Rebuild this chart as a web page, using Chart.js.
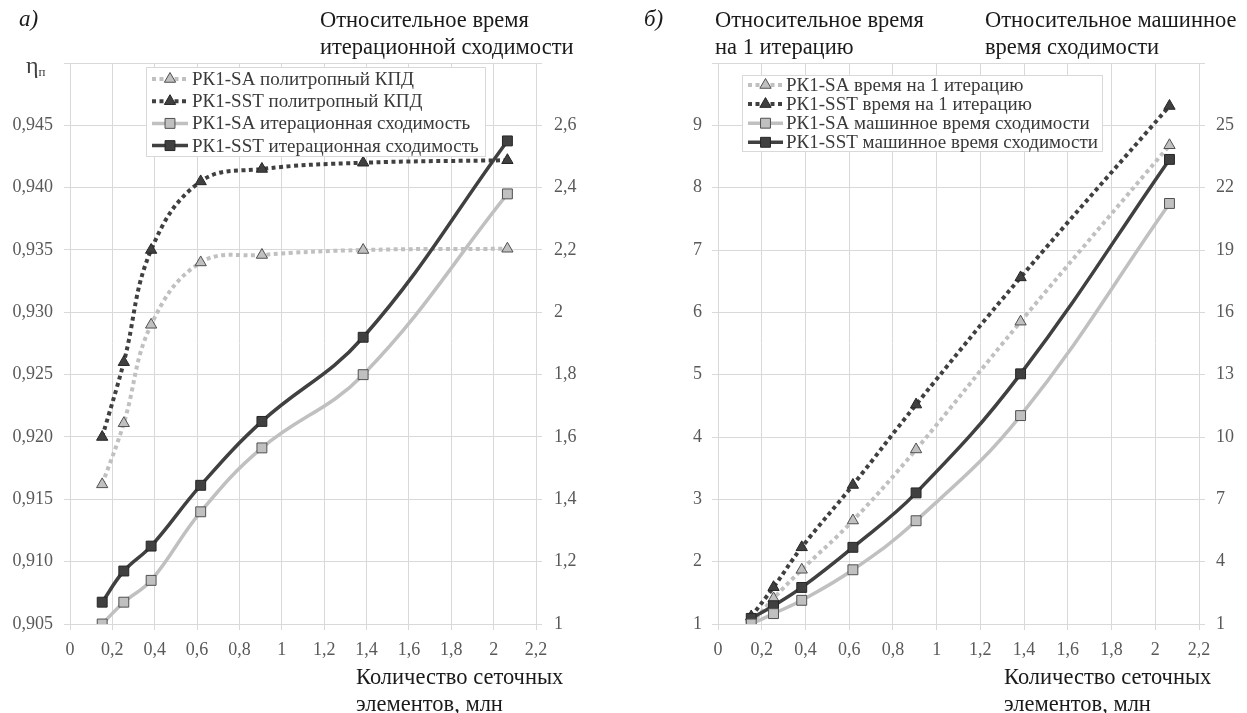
<!DOCTYPE html>
<html>
<head>
<meta charset="utf-8">
<script src="https://cdn.jsdelivr.net/npm/chart.js@4.4.1/dist/chart.umd.min.js"></script>
<style>
  html, body { margin: 0; padding: 0; background: #fff; }
  body { width: 1247px; height: 713px; position: relative; overflow: hidden; font-family: "Liberation Serif", serif; color: #1a1a1a; }
  .cv { position: absolute; top: 0; }
  .t { position: absolute; font-size: 22.5px; line-height: 27px; white-space: nowrap; }
  .lab { position: absolute; font-size: 23px; font-style: italic; }
  .eta { position: absolute; font-size: 24px; color: #404040; }
  .eta sub { font-size: 13px; vertical-align: -3px; }
</style>
</head>
<body>
<canvas id="chartA" class="cv" width="620" height="713" style="left:0"></canvas>
<canvas id="chartB" class="cv" width="627" height="713" style="left:620px"></canvas>

<div class="lab" style="left:19px;top:6px">а)</div>
<div class="t" style="left:320px;top:6px">Относительное время<br>итерационной сходимости</div>
<div class="eta" style="left:26px;top:52px">η<sub>п</sub></div>
<div class="t" style="left:356px;top:663px">Количество сеточных<br>элементов, млн</div>

<div class="lab" style="left:644px;top:6px">б)</div>
<div class="t" style="left:715px;top:6px">Относительное время<br>на 1 итерацию</div>
<div class="t" style="left:985px;top:6px">Относительное машинное<br>время сходимости</div>
<div class="t" style="left:1004px;top:663px">Количество сеточных<br>элементов, млн</div>

<script>
// ---------- data ----------
const meshSizes = [0.152, 0.254, 0.383, 0.617, 0.906, 1.384, 2.065];

// chart а)
const aSaEta    = [0.9162, 0.9211, 0.9290, 0.9340, 0.9346, 0.9350, 0.9351];
const aSstEta   = [0.9200, 0.9260, 0.9350, 0.9405, 0.9415, 0.9420, 0.9422];
const aSaConv   = [1.00, 1.07, 1.14, 1.36, 1.565, 1.80, 2.38];
const aSstConv  = [1.07, 1.17, 1.25, 1.445, 1.65, 1.92, 2.55];
const aLabels = [
  'РК1-SA политропный КПД',
  'РК1-SST политропный КПД',
  'РК1-SA итерационная сходимость',
  'РК1-SST итерационная сходимость'
];

// chart б)
const bSaIter   = [1.00, 1.41, 1.87, 2.66, 3.80, 5.85, 8.68];
const bSstIter  = [1.12, 1.59, 2.23, 3.23, 4.52, 6.56, 9.31];
const bSaMach   = [1.00, 1.50, 2.14, 3.61, 5.97, 11.03, 21.24];
const bSstMach  = [1.27, 1.88, 2.76, 4.69, 7.31, 13.04, 23.36];
const bLabels = [
  'РК1-SA время на 1 итерацию',
  'РК1-SST время на 1 итерацию',
  'РК1-SA машинное время сходимости',
  'РК1-SST машинное время сходимости'
];

// ticks
const xTicks = [0, 0.2, 0.4, 0.6, 0.8, 1, 1.2, 1.4, 1.6, 1.8, 2, 2.2];
const xTickLabels = ['0', '0,2', '0,4', '0,6', '0,8', '1', '1,2', '1,4', '1,6', '1,8', '2', '2,2'];
const aLeftTicks = [0.905, 0.910, 0.915, 0.920, 0.925, 0.930, 0.935, 0.940, 0.945, 0.950];
const aLeftTickLabels = ['0,905', '0,910', '0,915', '0,920', '0,925', '0,930', '0,935', '0,940', '0,945', ''];
const aRightTicks = [1, 1.2, 1.4, 1.6, 1.8, 2, 2.2, 2.4, 2.6, 2.8];
const aRightTickLabels = ['1', '1,2', '1,4', '1,6', '1,8', '2', '2,2', '2,4', '2,6', ''];
const bLeftTicks = [1, 2, 3, 4, 5, 6, 7, 8, 9, 10];
const bLeftTickLabels = ['1', '2', '3', '4', '5', '6', '7', '8', '9', ''];
const bRightTicks = [1, 4, 7, 10, 13, 16, 19, 22, 25, 28];
const bRightTickLabels = ['1', '4', '7', '10', '13', '16', '19', '22', '25', ''];

// ---------- styles ----------
const LIGHT = '#c0c0c0';
const DARK = '#404040';
const GRID = '#d9d9d9';
const TICKC = '#595959';
const FONT = 'Liberation Serif';

function pts(arr) { return meshSizes.map((x, i) => ({ x: x, y: arr[i] })); }

function dotted(label, arr, color, fill, border, axis) {
  return {
    label, data: pts(arr), yAxisID: axis, order: 2,
    borderColor: color, borderWidth: 4, borderDash: [4, 3.5], tension: 0.4,
    pointStyle: 'triangle', pointRadius: 6.5, pointBackgroundColor: fill,
    pointBorderColor: border, pointBorderWidth: 1, fill: false
  };
}
function solid(label, arr, color, fill, border, axis) {
  return {
    label, data: pts(arr), yAxisID: axis, order: 1,
    borderColor: color, borderWidth: 3.5, tension: 0.4,
    pointStyle: 'rect', pointRadius: 7, pointBackgroundColor: fill,
    pointBorderColor: border, pointBorderWidth: 1, fill: false
  };
}

const boxLegend = {
  id: 'boxLegend',
  afterDraw(chart, args, o) {
    const ctx = chart.ctx;
    ctx.save();
    ctx.fillStyle = '#fff';
    ctx.fillRect(o.x, o.y, o.w, o.h);
    ctx.strokeStyle = GRID;
    ctx.lineWidth = 1;
    ctx.strokeRect(o.x + 0.5, o.y + 0.5, o.w, o.h);
    ctx.font = o.fontSize + 'px "' + FONT + '"';
    ctx.textBaseline = 'middle';
    chart.data.datasets.forEach((ds, i) => {
      const y = o.y + o.first + i * o.rowH;
      ctx.setLineDash(ds.borderDash || []);
      ctx.strokeStyle = ds.borderColor;
      ctx.lineWidth = ds.borderWidth;
      ctx.beginPath();
      ctx.moveTo(o.x + o.s0, y);
      ctx.lineTo(o.x + o.s1, y);
      ctx.stroke();
      ctx.setLineDash([]);
      ctx.fillStyle = ds.pointBackgroundColor;
      ctx.strokeStyle = ds.pointBorderColor;
      ctx.lineWidth = 1;
      Chart.helpers.drawPoint(ctx, { pointStyle: ds.pointStyle, radius: ds.pointRadius, borderWidth: 1, rotation: 0 },
        o.x + (o.s0 + o.s1) / 2, y);
      ctx.fillStyle = '#3a3a3a';
      ctx.fillText(ds.label, o.x + o.tx, y + 1);
    });
    ctx.restore();
  }
};

function axisY(pos, ticks, labels, width, pad, gridOn) {
  return {
    type: 'linear', position: pos,
    min: ticks[0], max: ticks[ticks.length - 1],
    afterBuildTicks: s => { s.ticks = ticks.map(v => ({ value: v })); },
    afterFit: s => { s.width = width; },
    grid: { color: GRID, lineWidth: 1, tickLength: 6, drawOnChartArea: gridOn, tickColor: GRID },
    border: { color: GRID, width: 1 },
    ticks: { padding: pad, color: TICKC, font: { family: FONT, size: 18 },
      callback: (v, i) => labels[i] }
  };
}
function axisX(height) {
  return {
    type: 'linear', position: 'bottom',
    min: xTicks[0], max: xTicks[xTicks.length - 1],
    afterBuildTicks: s => { s.ticks = xTicks.map(v => ({ value: v })); },
    afterFit: s => { s.height = height; },
    grid: { color: GRID, lineWidth: 1, tickLength: 6, tickColor: GRID },
    border: { color: GRID, width: 1 },
    ticks: { padding: 9, color: TICKC, font: { family: FONT, size: 18 }, maxRotation: 0, autoSkip: false,
      callback: (v, i) => xTickLabels[i] }
  };
}

new Chart(document.getElementById('chartA'), {
  type: 'line',
  data: {
    datasets: [
      dotted(aLabels[0], aSaEta, LIGHT, LIGHT, '#505050', 'yL'),
      dotted(aLabels[1], aSstEta, DARK, DARK, '#262626', 'yL'),
      solid(aLabels[2], aSaConv, LIGHT, LIGHT, '#505050', 'yR'),
      solid(aLabels[3], aSstConv, DARK, DARK, '#262626', 'yR')
    ]
  },
  options: {
    responsive: false, animation: false,
    layout: { padding: { top: 63, bottom: 49, left: 0, right: 0 } },
    plugins: {
      legend: { display: false }, tooltip: { enabled: false },
      boxLegend: { x: 146, y: 67, w: 339, h: 89, first: 12, rowH: 22.2, s0: 6, s1: 42, tx: 46, fontSize: 19 }
    },
    scales: {
      x: axisX(40),
      yL: axisY('left', aLeftTicks, aLeftTickLabels, 70, 11, true),
      yR: axisY('right', aRightTicks, aRightTickLabels, 84, 12, false)
    }
  },
  plugins: [boxLegend]
});

new Chart(document.getElementById('chartB'), {
  type: 'line',
  data: {
    datasets: [
      dotted(bLabels[0], bSaIter, LIGHT, LIGHT, '#505050', 'yL'),
      dotted(bLabels[1], bSstIter, DARK, DARK, '#262626', 'yL'),
      solid(bLabels[2], bSaMach, LIGHT, LIGHT, '#505050', 'yR'),
      solid(bLabels[3], bSstMach, DARK, DARK, '#262626', 'yR')
    ]
  },
  options: {
    responsive: false, animation: false,
    layout: { padding: { top: 63, bottom: 49, left: 0, right: 0 } },
    plugins: {
      legend: { display: false }, tooltip: { enabled: false },
      boxLegend: { x: 122, y: 75, w: 360, h: 76, first: 10, rowH: 19.1, s0: 6, s1: 41, tx: 44, fontSize: 19 }
    },
    scales: {
      x: axisX(40),
      yL: axisY('left', bLeftTicks, bLeftTickLabels, 98, 10, true),
      yR: axisY('right', bRightTicks, bRightTickLabels, 48, 11, false)
    }
  },
  plugins: [boxLegend]
});
</script>
</body>
</html>
